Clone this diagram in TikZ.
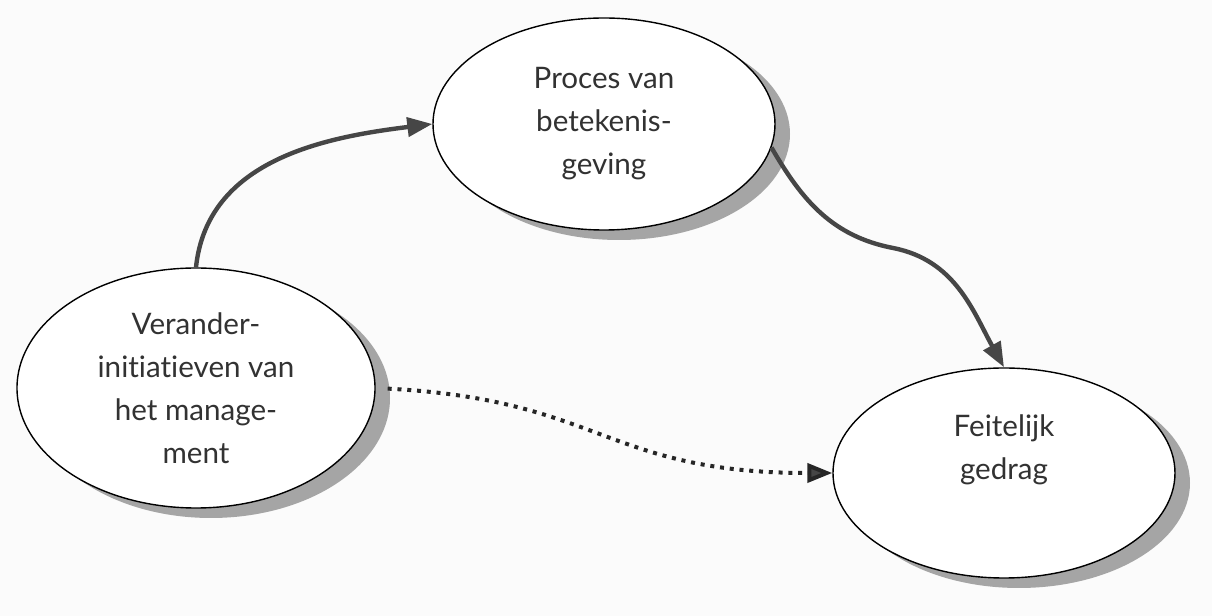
\documentclass[tikz,border=0pt]{standalone}
\usepackage{fontspec}
\setmainfont[Ligatures=NoCommon]{Lato}
\usetikzlibrary{arrows.meta,shapes.geometric,shadows}
\definecolor{bg}{RGB}{251,251,251}
\definecolor{txt}{RGB}{50,50,50}
\definecolor{shadowgray}{RGB}{165,165,165}
\definecolor{arrowgray}{RGB}{70,70,70}
\begin{document}
\begin{tikzpicture}[x=0.5pt,y=0.5pt,
  bubble/.style={ellipse, draw=black, line width=0.7pt, fill=white, inner sep=0pt,
    align=center, text=txt, font=\fontsize{14.8}{21.5}\selectfont,
    drop shadow={shadow xshift=7.5pt, shadow yshift=-5pt, fill=shadowgray, opacity=1}},
  flow/.style={draw=arrowgray, line width=2.2pt,
    -{Triangle[length=12.5pt,width=9.5pt,fill=arrowgray]}},
  dotflow/.style={draw=black!85, line width=2pt, dash pattern=on 2pt off 2.9pt,
    -{Triangle[length=12.5pt,width=9.5pt,fill=arrowgray]}}]
\fill[bg] (0,0) rectangle (1212,616);
\useasboundingbox (0,0) rectangle (1212,616);
\node[bubble, minimum width=179pt, minimum height=120pt] (init) at (196,228)
  {Verander-\\initiatieven van\\het manage-\\ment};
\node[bubble, minimum width=171pt, minimum height=106pt] (proc) at (604,492)
  {Proces van\\betekenis-\\geving};
\node[bubble, minimum width=171pt, minimum height=105pt] (feit) at (1004,143)
  {Feitelijk\\gedrag\\[4pt]};
\coordinate (bend) at (893,368);
\draw[flow] (init.north) to[out=84, in=187] (proc.west);
\draw[flow] (proc.-8) to[out=-60, in=169] (bend) to[out=-11, in=119] (feit.north);
\draw[dotflow, shorten <=6pt] (init.east) to[out=-3, in=180, looseness=1.25] (feit.west);
\end{tikzpicture}
\end{document}
